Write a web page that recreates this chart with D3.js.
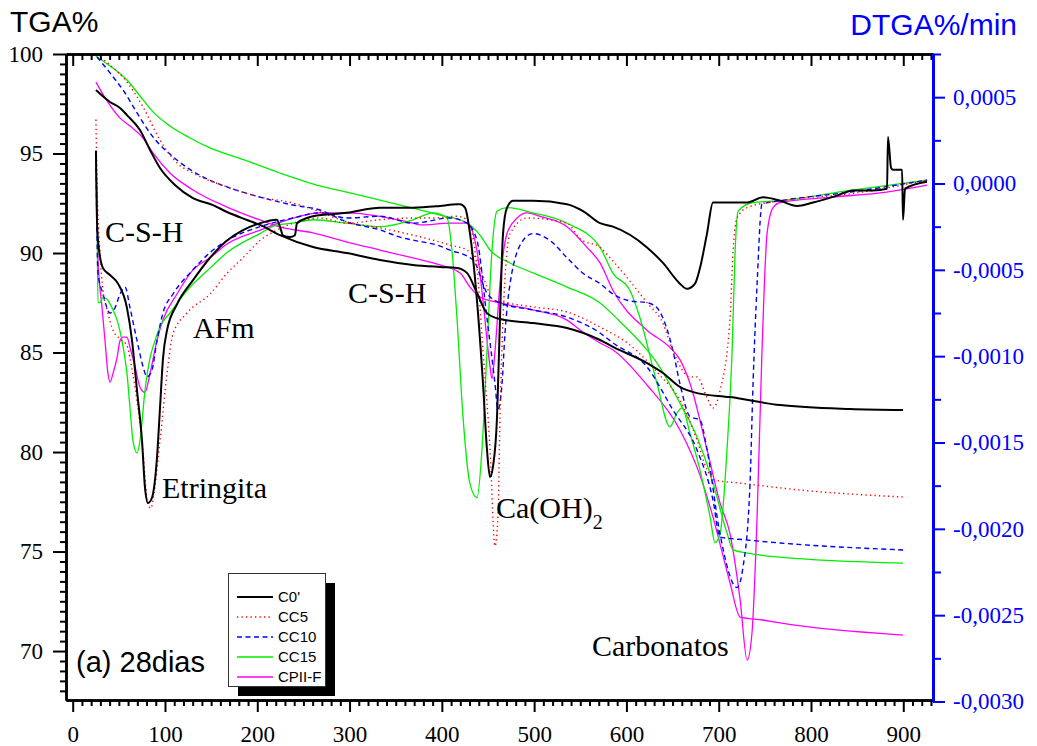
<!DOCTYPE html>
<html><head><meta charset="utf-8">
<script src="https://cdn.jsdelivr.net/npm/d3@7"></script>
<style>body{margin:0;background:#fff}text{font-kerning:normal}</style>
</head><body><svg id="chart" width="1037" height="746"></svg>
<script>
// ---------------- DATA ----------------
const seriesNames = ["C0'", "CC5", "CC10", "CC15", "CPII-F"];
const seriesColors = ["#000000", "#ff0000", "#0000ff", "#00ee00", "#ff00ff"];
const seriesDash = [null, "1.3,3.2", "5,3.5", null, null];
const seriesWidth = [2, 1.4, 1.4, 1.3, 1.3];

const xTicks = [0, 100, 200, 300, 400, 500, 600, 700, 800, 900];
const tgaTicks = [70, 75, 80, 85, 90, 95, 100];
const dtgaTicks = [0.0005, 0, -0.0005, -0.001, -0.0015, -0.002, -0.0025, -0.003];
const dtgaTickLabels = ["0,0005", "0,0000", "-0,0005", "-0,0010", "-0,0015", "-0,0020", "-0,0025", "-0,0030"];

// TGA (%) vs temperature (°C)
const tgaC0 = [[25.2,98.19],[40.4,97.59],[51.3,97.29],[58.8,96.93],[72.9,96.18],[83.8,95.18],[94.6,94.27],[110.8,93.42],[130.3,92.76],[152.1,92.41],[167.2,92.06],[188.9,91.66],[203,91.41],[224.6,90.9],[260.4,90.3],[297.2,90.0],[332.9,89.65],[368.7,89.4],[398,89.3],[416.4,89.25],[427.2,89.0],[438.1,87.99],[448.9,86.98],[463,86.68],[498.8,86.48],[535.6,86.23],[571.4,85.63],[585.5,85.28],[622.3,84.47],[639.6,83.97],[658,83.27],[676.5,82.96],[712.3,82.76],[766.5,82.36],[842.4,82.16],[899.8,82.11]];
const tgaCC5 = [[26.3,99.95],[40.4,99.45],[58.8,98.59],[76.2,97.34],[94.6,95.68],[113,94.52],[130.3,94.02],[167.2,93.32],[203,92.81],[238.7,92.51],[268,92.06],[297.2,91.56],[332.9,91.26],[368.7,90.9],[398,90.55],[408.8,90.4],[427.2,90.15],[438.1,89.65],[448.9,88.29],[455.4,87.64],[470.6,87.49],[498.8,87.29],[535.6,87.04],[571.4,86.28],[603.9,85.38],[636,83.87],[658,82.61],[676.5,80.6],[687.3,79.1],[696,78.59],[723.2,78.44],[788.2,78.09],[899.8,77.74]];
const tgaCC10 = [[26.3,99.85],[40.4,99.05],[56.7,98.04],[69.7,97.04],[83.8,96.03],[113,94.67],[141.2,93.82],[167.2,93.32],[203,92.81],[238.7,92.41],[268,92.16],[297.2,91.56],[332.9,91.16],[354.6,90.8],[368.7,90.65],[398,90.35],[408.8,90.15],[433.8,89.65],[448.9,87.99],[463,87.49],[498.8,87.14],[535.6,86.78],[571.4,85.98],[585.5,85.48],[622.3,84.27],[650.5,82.11],[676.5,80.1],[693.8,77.59],[701.4,75.73],[730.8,75.58],[766.5,75.43],[899.8,75.08]];
const tgaCC15 = [[25.2,99.9],[40.4,99.4],[58.8,98.69],[72.9,97.89],[87,97.09],[105.4,96.38],[127.1,95.78],[148.8,95.28],[186.7,94.67],[224.6,94.02],[268,93.37],[300.5,93.02],[332.9,92.66],[368.7,92.26],[398,91.91],[427.2,91.51],[441.3,90.9],[452.2,90.15],[473.9,89.5],[498.8,89.0],[535.6,88.29],[571.4,87.49],[592,86.6],[622.3,85.13],[633.2,84.47],[658,82.46],[676.5,80.75],[693.8,78.44],[709,75.93],[715.6,75.08],[730.8,74.92],[766.5,74.72],[899.8,74.42]];
const tgaCPII = [[25.2,98.59],[37.2,97.64],[51.3,96.78],[62.1,96.38],[76.2,95.78],[87,95.03],[105.4,94.02],[130.3,93.17],[167.2,92.31],[203,91.66],[224.6,91.31],[260.4,91.01],[297.2,90.55],[332.9,90.15],[368.7,89.75],[398,89.4],[419.7,89.0],[430.5,88.29],[441.3,87.79],[463,87.49],[498.8,87.14],[535.6,86.63],[549.7,86.13],[571.4,85.48],[585.5,85.13],[622.3,83.37],[658,81.11],[679.7,78.84],[693.8,76.73],[712.3,73.42],[723.2,71.71],[748,71.56],[766.5,71.41],[899.8,70.8]];

// DTGA in 10^-3 %/min vs temperature (°C)
const dtgaC0 = [[25.2,0.19],[26.0,-0.14],[27.4,-0.33],[32.8,-0.49],[40.4,-0.53],[49.1,-0.58],[58.8,-0.72],[64.3,-0.91],[69.7,-1.2],[75.1,-1.49],[78.3,-1.76],[81.6,-1.85],[85.9,-1.82],[91.3,-1.59],[94.6,-1.3],[97.9,-1.01],[102.2,-0.85],[113,-0.7],[130.4,-0.56],[148.8,-0.43],[167.2,-0.33],[184.5,-0.27],[203,-0.23],[221.3,-0.21],[224.6,-0.25],[227.8,-0.3],[235.4,-0.31],[240.8,-0.3],[243,-0.23],[253.9,-0.2],[260.4,-0.19],[297.2,-0.17],[333,-0.14],[368.7,-0.14],[398,-0.13],[416.4,-0.12],[419.7,-0.12],[425.1,-0.14],[430.5,-0.29],[438.1,-0.68],[444.6,-1.16],[448.9,-1.54],[452.2,-1.7],[455.4,-1.64],[459.8,-1.35],[463,-0.78],[466.3,-0.29],[470.6,-0.14],[477.1,-0.1],[498.8,-0.1],[535.6,-0.12],[553,-0.16],[571.4,-0.23],[585.5,-0.25],[622.3,-0.37],[639.6,-0.46],[658,-0.58],[665.6,-0.61],[674.3,-0.58],[679.7,-0.49],[687.3,-0.29],[693.8,-0.11],[712.4,-0.11],[730.8,-0.11],[748.1,-0.08],[766.6,-0.1],[784.8,-0.13],[802.2,-0.11],[828.2,-0.07],[845.5,-0.04],[867.2,-0.04],[882.4,-0.03],[883.4,0.27],[886.8,0.09],[889,0.08],[898.7,0.08],[899.7,-0.21],[901.9,-0.03],[925.7,0.01]];
const dtgaCC5 = [[25.2,0.37],[26.3,0.02],[29.6,-0.4],[32.8,-0.62],[37.2,-0.73],[43.7,-0.85],[51.3,-0.9],[58.8,-0.94],[65.3,-1.11],[69.7,-1.26],[75.1,-1.49],[81.6,-1.86],[84.9,-1.88],[87,-1.83],[94.6,-1.49],[102.2,-1.1],[108.7,-0.87],[123.8,-0.75],[148.8,-0.64],[167.2,-0.52],[184.5,-0.43],[203,-0.33],[221.3,-0.27],[238.7,-0.23],[268,-0.2],[297.2,-0.23],[332.9,-0.21],[368.7,-0.2],[390.5,-0.2],[416.4,-0.19],[427.2,-0.21],[438.1,-0.49],[444.6,-0.97],[452.2,-1.54],[457.6,-2.1],[460.8,-1.93],[463,-1.35],[466.3,-0.78],[473.9,-0.29],[492.3,-0.2],[535.6,-0.23],[549.7,-0.32],[571.4,-0.37],[585.5,-0.45],[622.3,-0.69],[639.6,-0.81],[650.5,-0.97],[669,-1.12],[676.5,-1.12],[687.3,-1.24],[693.8,-1.3],[701.4,-1.2],[712.3,-0.78],[715.6,-0.39],[719.9,-0.2],[730.8,-0.14],[766.5,-0.1],[842.4,-0.06],[925.8,0.02]];
const dtgaCC10 = [[25.2,0.19],[27.4,-0.52],[32.8,-0.64],[40.4,-0.75],[45.8,-0.72],[51.3,-0.64],[56.7,-0.6],[62.1,-0.72],[69.7,-0.91],[76.2,-1.06],[80.5,-1.12],[85.9,-1.08],[91.3,-0.91],[97.8,-0.75],[108.7,-0.64],[130.3,-0.5],[148.8,-0.4],[167.2,-0.33],[203,-0.25],[238.7,-0.2],[268,-0.17],[297.2,-0.2],[332.9,-0.19],[368.7,-0.23],[408.8,-0.2],[427.2,-0.23],[438.1,-0.33],[448.9,-0.78],[457.6,-1.16],[460.8,-1.31],[465.2,-1.16],[468.4,-0.87],[473.9,-0.58],[488,-0.33],[498.8,-0.29],[517.2,-0.33],[535.6,-0.43],[553,-0.52],[571.4,-0.58],[585.5,-0.64],[603.9,-0.68],[622.3,-0.69],[633.2,-0.72],[639.6,-0.78],[650.5,-0.97],[658,-1.16],[669,-1.35],[679.7,-1.37],[687.3,-1.54],[701.4,-2.03],[719.9,-2.34],[726.4,-2.22],[733.9,-1.74],[737.2,-1.16],[741.6,-0.58],[746.9,-0.12],[766.5,-0.1],[842.4,-0.05],[925.8,0.02]];
const dtgaCC15 = [[25.2,0.19],[26.3,-0.14],[27.4,-0.69],[29.6,-0.69],[32.8,-0.66],[37.2,-0.67],[42.6,-0.72],[48,-0.79],[53.4,-0.91],[58.8,-1.1],[62.1,-1.3],[65.3,-1.49],[69.7,-1.56],[72.9,-1.49],[78.3,-1.2],[83.8,-1.01],[89.2,-0.91],[94.6,-0.83],[105.4,-0.75],[123.8,-0.62],[148.8,-0.49],[167.2,-0.4],[203,-0.29],[221.3,-0.24],[238.7,-0.23],[260.4,-0.21],[297.2,-0.23],[332.9,-0.25],[368.7,-0.21],[390.5,-0.17],[405.6,-0.2],[411,-0.39],[416.4,-0.78],[422.9,-1.35],[430.5,-1.74],[438.1,-1.82],[443.5,-1.54],[448.9,-0.97],[454.3,-0.39],[459.8,-0.16],[470.6,-0.14],[498.8,-0.17],[535.6,-0.23],[571.4,-0.37],[585.5,-0.52],[603.9,-0.62],[614.8,-0.78],[633.2,-1.16],[647.2,-1.41],[654.8,-1.33],[660.2,-1.3],[669,-1.45],[679.7,-1.66],[690.6,-1.93],[696,-2.08],[701.4,-2.03],[709,-1.54],[714.5,-0.97],[717.8,-0.39],[721,-0.16],[737.2,-0.11],[766.5,-0.1],[842.4,-0.04],[925.8,0.02]];
const dtgaCPII = [[25.2,0.19],[27.4,-0.43],[31.8,-0.72],[35,-0.91],[38.2,-1.1],[40.4,-1.15],[43.7,-1.1],[48,-1.01],[51.3,-0.91],[54.5,-0.89],[58.8,-0.89],[62.1,-0.95],[67.5,-1.06],[72.9,-1.18],[78.3,-1.21],[83.8,-1.1],[91.3,-0.91],[97.8,-0.79],[113,-0.64],[130.3,-0.5],[148.8,-0.43],[167.2,-0.35],[203,-0.27],[238.7,-0.2],[268,-0.17],[297.2,-0.17],[332.9,-0.19],[368.7,-0.23],[376.3,-0.24],[408.8,-0.23],[427.2,-0.23],[438.1,-0.39],[444.6,-0.68],[452.2,-1.06],[454.3,-1.13],[457.6,-0.97],[463,-0.58],[470.6,-0.29],[481.5,-0.2],[492.3,-0.17],[506.4,-0.19],[535.6,-0.25],[557.3,-0.37],[571.4,-0.46],[585.5,-0.62],[622.3,-0.85],[647.2,-0.95],[658,-1.02],[669,-1.16],[687.3,-1.54],[701.4,-1.85],[712.3,-2.03],[723.2,-2.41],[730.8,-2.76],[736.1,-2.6],[741.6,-1.93],[746.9,-0.97],[752.4,-0.29],[758.9,-0.14],[766.5,-0.11],[820,-0.08],[882,-0.05],[925.8,-0.01]];

const tgaSeries = [tgaC0, tgaCC5, tgaCC10, tgaCC15, tgaCPII];
const dtgaSeries = [dtgaC0, dtgaCC5, dtgaCC10, dtgaCC15, dtgaCPII];
const dtgaUnit = 1e-3;

// ---------------- DRAW ----------------
const svg = d3.select("#chart");
svg.append("rect").attr("width", 1037).attr("height", 746).attr("fill", "#fff");
const L = 66, R = 933, T = 54, B = 700;
const x = d3.scaleLinear().domain([-7.26, 932.2]).range([L, R]);
const yL = d3.scaleLinear().domain([67.54, 100]).range([B, T]);
const yR = d3.scaleLinear().domain([-0.003, 0.00075]).range([701.5, T]);

svg.append("clipPath").attr("id", "clip").append("rect")
  .attr("x", L).attr("y", T).attr("width", R - L).attr("height", B - T);

const lineL = d3.line().x(d => x(d[0])).y(d => yL(d[1])).curve(d3.curveMonotoneX);
const lineR = d3.line().x(d => x(d[0])).y(d => yR(d[1] * dtgaUnit)).curve(d3.curveMonotoneX);

const plot = svg.append("g").attr("clip-path", "url(#clip)");
[4, 3, 2, 1, 0].forEach(i => {
  plot.append("path").attr("d", lineR(dtgaSeries[i])).attr("fill", "none")
    .attr("stroke", seriesColors[i]).attr("stroke-width", seriesWidth[i])
    .attr("stroke-dasharray", seriesDash[i]).attr("stroke-linejoin", "round");
  plot.append("path").attr("d", lineL(tgaSeries[i])).attr("fill", "none")
    .attr("stroke", seriesColors[i]).attr("stroke-width", seriesWidth[i])
    .attr("stroke-dasharray", seriesDash[i]).attr("stroke-linejoin", "round");
});

const serif = "'Liberation Serif','Times New Roman',serif";
const sans = "'Liberation Sans',Arial,sans-serif";
const xMinor = d3.range(0, 931, 10).filter(v => v % 100 !== 0);
const yMinor = d3.range(68, 100, 0.5).filter(v => v % 5 !== 0);
const rMinor = [0.00075, 0.00025, -0.00025, -0.00075, -0.00125, -0.00175, -0.00225, -0.00275];

function styleAxis(g, color, w, fs) {
  g.select(".domain").attr("stroke", color).attr("stroke-width", w);
  g.selectAll(".tick line").attr("stroke", color).attr("stroke-width", 2);
  g.selectAll(".tick text").attr("fill", color).style("font-family", serif).style("font-size", fs + "px");
}
// bottom axis
const gb = svg.append("g").attr("transform", `translate(0,${B})`);
gb.append("g").call(d3.axisBottom(x).tickValues(xMinor).tickSize(6).tickSizeOuter(0).tickFormat(""))
  .call(g => styleAxis(g, "#000", 2.5, 23));
gb.append("g").call(d3.axisBottom(x).tickValues(xTicks).tickSize(12).tickSizeOuter(0).tickPadding(14).tickFormat(d => d))
  .call(g => styleAxis(g, "#000", 2.5, 23));
// top axis (ticks inward)
const gt = svg.append("g").attr("transform", `translate(0,${T})`);
gt.append("g").call(d3.axisTop(x).tickValues(xMinor).tickSize(-6).tickSizeOuter(0).tickFormat(""))
  .call(g => styleAxis(g, "#000", 2.5, 23));
gt.append("g").call(d3.axisTop(x).tickValues(xTicks).tickSize(-12).tickSizeOuter(0).tickFormat(""))
  .call(g => styleAxis(g, "#000", 2.5, 23));
// left axis
const gl = svg.append("g").attr("transform", `translate(${L},0)`);
gl.append("g").call(d3.axisLeft(yL).tickValues(yMinor).tickSize(6).tickSizeOuter(0).tickFormat(""))
  .call(g => styleAxis(g, "#000", 2.5, 23));
gl.append("g").call(d3.axisLeft(yL).tickValues(tgaTicks).tickSize(13).tickSizeOuter(0).tickPadding(10).tickFormat(d => d))
  .call(g => styleAxis(g, "#000", 2.5, 23));
// right axis (blue)
const gr = svg.append("g").attr("transform", `translate(${R},0)`);
gr.append("g").call(d3.axisRight(yR).tickValues(rMinor).tickSize(8).tickSizeOuter(0).tickFormat(""))
  .call(g => styleAxis(g, "#0000ff", 3, 23));
gr.append("g").call(d3.axisRight(yR).tickValues(dtgaTicks).tickSize(12).tickSizeOuter(0).tickPadding(8)
  .tickFormat((d, i) => dtgaTickLabels[i]))
  .call(g => styleAxis(g, "#0000ff", 3, 23));

// axis titles
svg.append("text").attr("x", 10).attr("y", 32).text("TGA%")
  .style("font-family", sans).style("font-size", "30px").attr("fill", "#000");
svg.append("text").attr("x", 1017).attr("y", 35).attr("text-anchor", "end").text("DTGA%/min")
  .style("font-family", sans).style("font-size", "30px").attr("fill", "#0000ff");

// annotations
const notes = [["C-S-H", 105, 242], ["AFm", 193, 338], ["Etringita", 162, 498], ["C-S-H", 348, 303], ["Carbonatos", 592, 656]];
notes.forEach(n => svg.append("text").attr("x", n[1]).attr("y", n[2]).text(n[0])
  .style("font-family", serif).style("font-size", "30px").attr("fill", "#000"));
const ca = svg.append("text").attr("x", 496).attr("y", 518).style("font-family", serif).style("font-size", "30px").attr("fill", "#000");
ca.append("tspan").text("Ca(OH)");
ca.append("tspan").attr("dy", 11).style("font-size", "20px").text("2");

svg.append("text").attr("x", 76).attr("y", 672).text("(a) 28dias")
  .style("font-family", sans).style("font-size", "29px").attr("fill", "#000");

// legend
const lg = svg.append("g");
lg.append("rect").attr("x", 238).attr("y", 583).attr("width", 97).attr("height", 113).attr("fill", "#000");
lg.append("rect").attr("x", 228.5).attr("y", 573.5).attr("width", 97).attr("height", 113).attr("fill", "#fff").attr("stroke", "#333").attr("stroke-width", 1);
seriesNames.forEach((nm, i) => {
  const yy = 597 + i * 20;
  lg.append("line").attr("x1", 237).attr("x2", 273).attr("y1", yy).attr("y2", yy)
    .attr("stroke", seriesColors[i]).attr("stroke-width", i === 0 ? 2 : 1.4).attr("stroke-dasharray", seriesDash[i]);
  lg.append("text").attr("x", 278).attr("y", yy).attr("dy", "0.35em").text(nm)
    .style("font-family", sans).style("font-size", "15px").attr("fill", "#000");
});
</script>
</body></html>
